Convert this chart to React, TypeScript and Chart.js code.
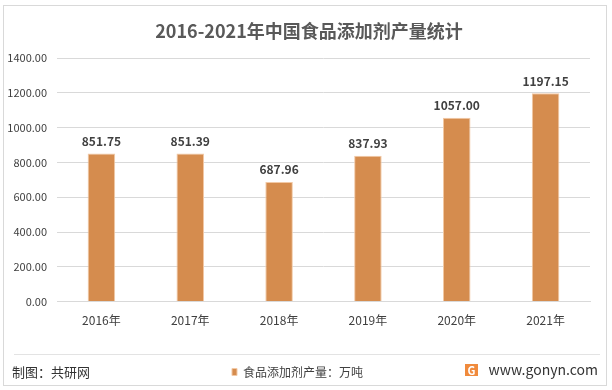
import React, { useEffect, useRef } from "react";
import { Chart, registerables } from "chart.js";

Chart.register(...registerables);

const years = ["2016年", "2017年", "2018年", "2019年", "2020年", "2021年"];
const output = [851.75, 851.39, 687.96, 837.93, 1057.0, 1197.15];
const seriesName = "食品添加剂产量：万吨";
const titleText = "2016-2021年中国食品添加剂产量统计";
const sourceText = "制图：共研网";
const siteText = "www.gonyn.com";

const FONT = '"Noto Sans CJK SC", "Noto Sans", sans-serif';
const BAR = "#D58C4E";

const decorPlugin = {
  id: "decor",
  afterDatasetsDraw(chart: any) {
    const ctx = chart.ctx;
    const meta = chart.getDatasetMeta(0);
    ctx.save();
    ctx.font = `bold 12px ${FONT}`;
    ctx.fillStyle = "#404040";
    ctx.textAlign = "center";
    ctx.textBaseline = "bottom";
    meta.data.forEach((bar: any, i: number) => {
      ctx.fillText(output[i].toFixed(2), bar.x, bar.y - 6);
    });
    ctx.restore();
  },
  afterDraw(chart: any) {
    const ctx = chart.ctx;
    ctx.save();
    // title
    ctx.fillStyle = "#595959";
    ctx.font = `bold 18px ${FONT}`;
    ctx.textAlign = "center";
    ctx.textBaseline = "middle";
    ctx.fillText(titleText, 309, 31);
    // outer border
    ctx.strokeStyle = "#D9D9D9";
    ctx.lineWidth = 1;
    ctx.strokeRect(3.5, 5.5, 603, 380);
    // separator
    ctx.strokeStyle = "#E3E3E3";
    ctx.beginPath();
    ctx.moveTo(14, 354.5);
    ctx.lineTo(600, 354.5);
    ctx.stroke();
    // footer texts
    ctx.fillStyle = "#333333";
    ctx.font = `13px ${FONT}`;
    ctx.textBaseline = "middle";
    ctx.textAlign = "left";
    ctx.fillText(sourceText, 12, 372);
    ctx.font = `14px ${FONT}`;
    ctx.textAlign = "right";
    ctx.fillText(siteText, 598, 370);
    // logo
    ctx.fillStyle = "#F08A3C";
    ctx.fillRect(465, 364, 13, 12);
    ctx.fillStyle = "#FFFFFF";
    ctx.font = `bold 11px ${FONT}`;
    ctx.textAlign = "center";
    ctx.fillText("G", 471.5, 370.5);
    ctx.restore();
  },
};

export default function App() {
  const ref = useRef<HTMLCanvasElement | null>(null);
  useEffect(() => {
    if (!ref.current) return;
    const chart = new Chart(ref.current, {
      type: "bar",
      data: {
        labels: years,
        datasets: [
          {
            label: seriesName,
            data: output,
            backgroundColor: BAR,
            borderColor: "#F2C9A6",
            borderWidth: 1,
            barPercentage: 0.31,
            categoryPercentage: 1,
          },
        ],
      },
      options: {
        animation: false,
        responsive: false,
        maintainAspectRatio: false,
        layout: { padding: { left: 5, right: 22, top: 58, bottom: 2 } },
        plugins: {
          title: { display: false },
          legend: {
            display: true,
            position: "bottom",
            labels: {
              color: "#404040",
              font: { family: FONT, size: 12 },
              boxWidth: 5,
              boxHeight: 7,
              padding: 34,
            },
          },
          tooltip: { enabled: false },
        },
        scales: {
          x: {
            grid: { display: false },
            border: { display: true, color: "#D9D9D9" },
            ticks: {
              color: "#404040",
              font: { family: FONT, size: 12 },
              padding: 4,
            },
          },
          y: {
            min: 0,
            max: 1400,
            border: { display: false },
            grid: { color: "#D9D9D9", drawTicks: false },
            afterFit: (scale: any) => {
              scale.width = 52;
            },
            ticks: {
              stepSize: 200,
              color: "#404040",
              padding: 10,
              font: { family: FONT, size: 11 },
              callback: (v: any) => Number(v).toFixed(2),
            },
          },
        },
      },
      plugins: [decorPlugin],
    });
    return () => chart.destroy();
  }, []);
  return (
    <div style={{ position: "fixed", left: 0, top: 0, width: 612, height: 390, background: "#fff" }}>
      <canvas ref={ref} width={612} height={390} style={{ display: "block" }} />
    </div>
  );
}
